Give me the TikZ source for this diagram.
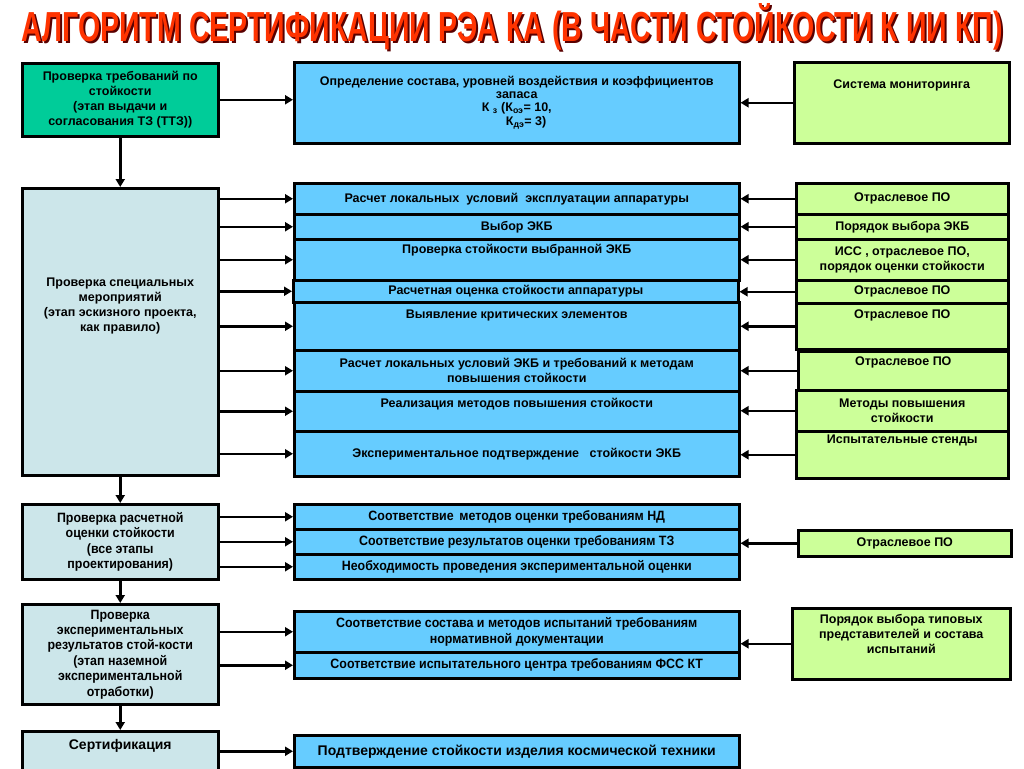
\documentclass[tikz,border=0pt]{standalone}
\usepackage{fontspec}
\setmainfont{Liberation Sans}
\newfontfamily\narrowfont{Liberation Sans}[FakeStretch=0.92]
\newfontfamily\titlefont{Liberation Sans}[FakeStretch=0.68]
\usetikzlibrary{positioning,arrows.meta}
\definecolor{stagegreen}{HTML}{00CC99}
\definecolor{stagegray}{HTML}{CCE6EA}
\definecolor{taskblue}{HTML}{66CCFF}
\definecolor{srcgreen}{HTML}{CCFF99}
\definecolor{titlered}{HTML}{FF3300}
\begin{document}
\begin{tikzpicture}[x=1pt,y=-1pt,
  every node/.style={font=\bfseries\fontsize{12.5}{15}\selectfont},
  box/.style={draw, line width=2.5pt, inner sep=2pt, align=center, anchor=north west},
  stage/.style={box, fill=stagegray, minimum width=196pt},
  task/.style={box, fill=taskblue, minimum width=445pt},
  src/.style={box, fill=srcgreen, minimum width=212pt},
  txt/.style={inner sep=0pt, align=center},
  narrow/.style={font=\narrowfont\bfseries\fontsize{13.5}{15.4}\selectfont},
  big/.style={font=\bfseries\fontsize{14}{16}\selectfont},
  arr/.style={line width=2.5pt, -{Triangle[length=8pt,width=9pt]}}]
\useasboundingbox (0,0) rectangle (1024,768);
% title
\node[text=red!35!black] (titleshadow) at (514,29) {\titlefont\fontsize{42}{42}\selectfont АЛГОРИТМ СЕРТИФИКАЦИИ РЭА КА (В ЧАСТИ СТОЙКОСТИ К ИИ КП)};
\node[text=titlered] (title) at (512,27) {\titlefont\fontsize{42}{42}\selectfont АЛГОРИТМ СЕРТИФИКАЦИИ РЭА КА (В ЧАСТИ СТОЙКОСТИ К ИИ КП)};
% stages (left column)
\node[stage, fill=stagegreen, minimum height=73pt] (l1) at (21,62) {Проверка требований по\\стойкости\\(этап выдачи и\\согласования ТЗ (ТТЗ))};
\node[stage, minimum height=287pt] (l2) at (21,187) {};
\node[txt, below=91pt of l2.north] {Проверка специальных\\мероприятий\\(этап эскизного проекта,\\как правило)};
\node[stage, narrow, minimum height=75pt] (l3) at (21,503) {Проверка расчетной\\оценки стойкости\\(все этапы\\проектирования)};
\node[stage, narrow, minimum height=100pt] (l4) at (21,603) {Проверка\\экспериментальных\\результатов стой-кости\\(этап наземной\\экспериментальной\\отработки)};
\node[stage, minimum height=42pt] (l5) at (21,730) {};
\node[txt, big, below=9pt of l5.north] {Сертификация};
% tasks (middle column)
\node[task, minimum height=81pt] (m0) at (293,61) {Определение состава, уровней воздействия и коэффициентов\\[-2pt]запаса\\[-2pt]К \textsubscript{з} (К\textsubscript{оэ}= 10,\\[-1pt]\hspace{1.5em}К\textsubscript{дэ}= 3)};
\node[task, minimum height=31pt] (m1) at (293,182) {Расчет локальных\ \ условий\ \ эксплуатации аппаратуры};
\node[task, minimum height=25pt] (m2) at (293,213) {Выбор ЭКБ};
\node[task, minimum height=41pt] (m3) at (293,238) {};
\node[txt, below=6pt of m3.north] {Проверка стойкости выбранной ЭКБ};
\node[task, minimum height=22pt] (m4) at (292,279) {Расчетная оценка стойкости аппаратуры};
\node[task, minimum height=48pt] (m5) at (293,301) {};
\node[txt, below=9pt of m5.north] {Выявление критических элементов};
\node[task, minimum height=41pt] (m6) at (293,349) {Расчет локальных условий ЭКБ и требований к методам\\повышения стойкости};
\node[task, minimum height=40pt] (m7) at (293,390) {};
\node[txt, below=8pt of m7.north] {Реализация методов повышения стойкости};
\node[task, minimum height=45pt] (m8) at (293,430) {Экспериментальное подтверждение\ \ \ стойкости ЭКБ};
\node[task, narrow, minimum height=25pt] (n1) at (293,503) {Соответствие\, методов оценки требованиям НД};
\node[task, narrow, minimum height=25pt] (n2) at (293,528) {Соответствие результатов оценки требованиям ТЗ};
\node[task, narrow, minimum height=25pt] (n3) at (293,553) {Необходимость проведения экспериментальной оценки};
\node[task, narrow, minimum height=41pt] (s1) at (293,610) {Соответствие состава и методов испытаний требованиям\\нормативной документации};
\node[task, narrow, minimum height=26pt] (s2) at (293,651) {Соответствие испытательного центра требованиям ФСС КТ};
\node[task, big, minimum height=32pt] (c1) at (293,734) {Подтверждение стойкости изделия космической техники};
% sources (right column)
\node[src, minimum width=215pt, minimum height=81pt] (g0) at (793,61) {};
\node[txt, below=19pt of g0.north] {Система мониторинга};
\node[src, minimum height=31pt] (g1) at (795,182) {Отраслевое ПО};
\node[src, minimum height=25pt] (g2) at (795,213) {Порядок выбора ЭКБ};
\node[src, minimum height=41pt] (g3) at (795,238) {ИСС , отраслевое ПО,\\порядок оценки стойкости};
\node[src, minimum height=23pt] (g4) at (795,279) {Отраслевое ПО};
\node[src, minimum height=46pt] (g5) at (795,302) {};
\node[txt, below=8pt of g5.north] {Отраслевое ПО};
\node[src, minimum width=210pt, minimum height=39pt] (g6) at (797,350) {};
\node[txt, below=7pt of g6.north] {Отраслевое ПО};
\node[src, minimum height=41pt] (g7) at (795,389) {Методы повышения\\стойкости};
\node[src, minimum height=47pt] (g8) at (795,430) {};
\node[txt, below=5pt of g8.north] {Испытательные стенды};
\node[src, minimum width=213pt, minimum height=26pt] (gp3) at (797,529) {Отраслевое ПО};
\node[src, minimum width=218pt, minimum height=71pt] (gp4) at (791,607) {};
\node[txt, below=7pt of gp4.north] {Порядок выбора типовых\\представителей и состава\\испытаний};
% flow down the stages
\draw[arr] (l1) -- (l2);
\draw[arr] (l2) -- (l3);
\draw[arr] (l3) -- (l4);
\draw[arr] (l4) -- (l5);
% stages to tasks
\draw[arr] (l1.east) -- (l1.east -| m0.west);
\foreach \t in {m1,m2,m3,m4,m5,m6,m7,m8}
  \draw[arr] (l2.east |- \t) -- (\t.west);
\foreach \t in {n1,n2,n3}
  \draw[arr] (l3.east |- \t) -- (\t.west);
\foreach \t in {s1,s2}
  \draw[arr] (l4.east |- \t) -- (\t.west);
\draw[arr] (l5.east |- c1) -- (c1.west);
% sources to tasks
\draw[arr] (g0.west) -- (g0.west -| m0.east);
\foreach \g/\t in {g1/m1,g2/m2,g3/m3,g4/m4,g5/m5,g6/m6,g7/m7,g8/m8}
  \draw[arr] (\g.west) -- (\g.west -| \t.east);
\draw[arr] (gp3.west) -- (gp3.west -| n2.east);
\draw[arr] (gp4.west) -- (gp4.west -| s1.east);
\end{tikzpicture}
\end{document}
